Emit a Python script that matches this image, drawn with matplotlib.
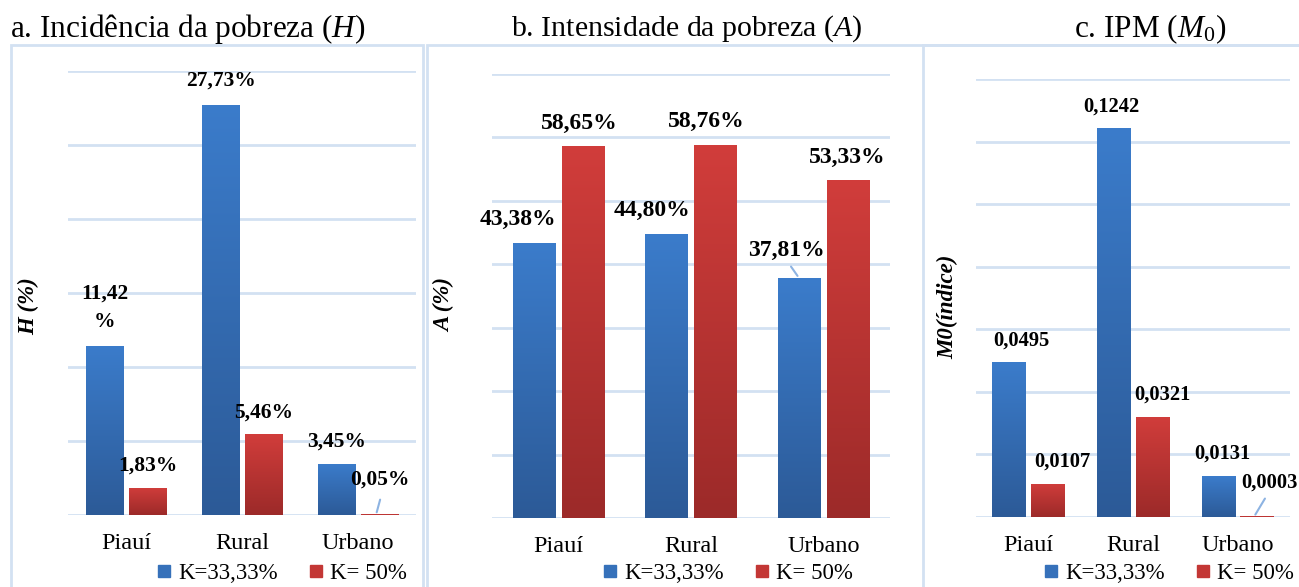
import numpy as np
import matplotlib
matplotlib.use("Agg")
import matplotlib.pyplot as plt
from matplotlib.colors import LinearSegmentedColormap
from matplotlib.lines import Line2D
from matplotlib.patches import Rectangle

# ---- data ----
categories = ["Piauí", "Rural", "Urbano"]
series_names = ["K=33,33%", "K= 50%"]

h_k33 = [11.42, 27.73, 3.45]
h_k50 = [1.83, 5.46, 0.05]
h_labels_k33 = ["11,42\n%", "27,73%", "3,45%"]
h_labels_k50 = ["1,83%", "5,46%", "0,05%"]

a_k33 = [43.38, 44.80, 37.81]
a_k50 = [58.65, 58.76, 53.33]
a_labels_k33 = ["43,38%", "44,80%", "37,81%"]
a_labels_k50 = ["58,65%", "58,76%", "53,33%"]

m_k33 = [0.0495, 0.1242, 0.0131]
m_k50 = [0.0107, 0.0321, 0.0003]
m_labels_k33 = ["0,0495", "0,1242", "0,0131"]
m_labels_k50 = ["0,0107", "0,0321", "0,0003"]

# ---- style ----
plt.rcParams["font.family"] = ["Liberation Serif", "DejaVu Serif"]
plt.rcParams["mathtext.fontset"] = "custom"
plt.rcParams["mathtext.rm"] = "Liberation Serif"
plt.rcParams["mathtext.it"] = "Liberation Serif:italic"

W, H = 1299, 587
fig = plt.figure(figsize=(W / 100, H / 100), dpi=100)

grid_col = "#D3E1F2"
border_col = "#D3E1F2"
blue_cmap = LinearSegmentedColormap.from_list("b", ["#2C5A97", "#3B7CCB"])
red_cmap = LinearSegmentedColormap.from_list("r", ["#9C2A29", "#D13D3B"])
blue_solid = "#3671BA"
red_solid = "#C33735"


def px_axes(x0, x1, ytop, ybot):
    return fig.add_axes([x0 / W, (H - ybot) / H, (x1 - x0) / W, (ybot - ytop) / H])


def gradient_bars(ax, bars, cmap):
    grad = np.linspace(0, 1, 256).reshape(-1, 1)
    for b in bars:
        x, w, h = b.get_x(), b.get_width(), b.get_height()
        if h <= 0:
            continue
        im = ax.imshow(grad, extent=[x, x + w, 0, h], origin="lower", aspect="auto",
                       cmap=cmap, zorder=3)
        im.set_clip_path(b)


def panel(ax, v1, v2, lab1, lab2, ymax, ystep, label_size, offs1, offs2, leaders):
    x = np.arange(len(categories))
    w, off = 0.32, 0.185
    b1 = ax.bar(x - off, v1, w, color=blue_solid, zorder=2)
    b2 = ax.bar(x + off, v2, w, color=red_solid, zorder=2, linewidth=0)
    gradient_bars(ax, b1, blue_cmap)
    gradient_bars(ax, b2, red_cmap)
    ax.set_xlim(-0.5, len(categories) - 0.5)
    ax.set_ylim(0, ymax)
    ax.set_yticks(np.arange(0, ymax + ystep / 2, ystep))
    ax.set_yticklabels([])
    ax.set_xticks(x)
    ax.set_xticklabels(categories, fontsize=17.5)
    ax.tick_params(length=0, pad=13)
    for s in ax.spines.values():
        s.set_visible(False)
    ax.grid(axis="y", color=grid_col, linewidth=2, zorder=0)
    ax.set_axisbelow(True)
    for bars, labs, offs in ((b1, lab1, offs1), (b2, lab2, offs2)):
        for i, (b, t) in enumerate(zip(bars, labs)):
            dx, dy = offs[i]
            cx = b.get_x() + b.get_width() / 2
            ax.annotate(t, (cx, b.get_height()), xytext=(dx * 0.72, dy * 0.72),
                        textcoords="offset points", ha="center", va="center",
                        fontsize=label_size, fontweight="bold", zorder=5,
                        linespacing=1.6)
    for (bx, by), (tx, ty) in leaders:
        ax.annotate("", (bx, by), xytext=(tx, ty), textcoords="offset points",
                    arrowprops=dict(arrowstyle="-", color="#8DB3E2", lw=1.5))


ylab_kw = dict(fontsize=16.5, fontweight="bold", fontstyle="italic", labelpad=0)

# panel a
ax_a = px_axes(68, 416, 71, 515)
panel(ax_a, h_k33, h_k50, h_labels_k33, h_labels_k50, 30, 5, 15.5,
      [(0, 38), (0, 24), (0, 22)], [(0, 22), (0, 22), (0, 35)],
      [((2.185 - 0.03, 0), (3.5, 13))])
ax_a.set_ylabel("H (%)", **ylab_kw)
ax_a.yaxis.set_label_coords((39 - 68) / 348, 0.47)

# panel b
ax_b = px_axes(492, 890, 74, 518)
panel(ax_b, a_k33, a_k50, a_labels_k33, a_labels_k50, 70, 10, 17,
      [(-16, 23), (-14, 23), (-13, 28)], [(-4, 23), (-9, 24), (-1, 22)],
      [((2 - 0.185, 37.81), (-7, 10))])
ax_b.set_ylabel("A (%)", **ylab_kw)
ax_b.yaxis.set_label_coords((455 - 492) / 398, 0.48)

# panel c
ax_c = px_axes(976, 1290, 79, 517)
panel(ax_c, m_k33, m_k50, m_labels_k33, m_labels_k50, 0.14, 0.02, 14.8,
      [(12, 22), (-2, 22), (4, 22)], [(15, 22), (10, 22), (12, 33)],
      [((2.185 - 0.03, 0), (9, 15))])
ax_c.set_ylabel("M0(índice)", **ylab_kw)
ax_c.yaxis.set_label_coords((958 - 976) / 314, 0.48)

# legends
handles = [Line2D([], [], marker="s", linestyle="none", markersize=9, color=blue_solid),
           Line2D([], [], marker="s", linestyle="none", markersize=9, color=red_solid)]
for ax, cx in ((ax_a, 281), (ax_b, 727), (ax_c, 1168)):
    ax.legend(handles, series_names, loc="center", bbox_to_anchor=(cx / W, 1 - 573 / H),
              bbox_transform=fig.transFigure, ncol=2, frameon=False, fontsize=16.5,
              handlelength=0.8, handletextpad=0.2, columnspacing=1.3, borderpad=0)

# titles
fig.text(10 / W, 1 - 29 / H, "a. Incidência da pobreza ($\\mathit{H}$)", fontsize=22.5,
         ha="left", va="center")
fig.text(687 / W, 1 - 29 / H, "b. Intensidade da pobreza ($\\mathit{A}$)", fontsize=21.5,
         ha="center", va="center")
fig.text(1150 / W, 1 - 29 / H, "c. IPM ($\\mathit{M}_0$)", fontsize=22.5,
         ha="center", va="center")

# panel borders
for x0, x1 in ((11, 423), (427, 1310), (923, 1310)):
    fig.patches.append(Rectangle((x0 / W, -0.05), (x1 - x0) / W, 1.05 - 45 / H,
                                 transform=fig.transFigure, fill=False,
                                 edgecolor=border_col, linewidth=2))

fig.savefig("out.png", dpi=100)
